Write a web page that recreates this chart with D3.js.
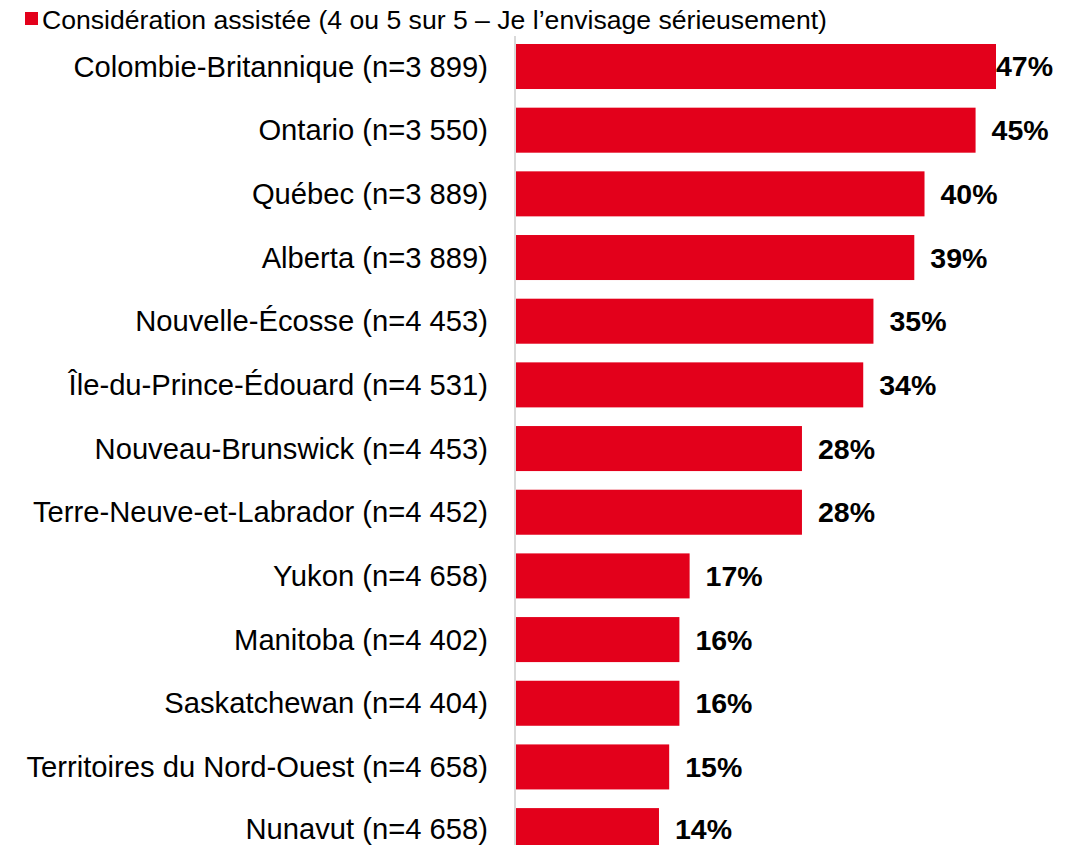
<!DOCTYPE html>
<html><head><meta charset="utf-8">
<script src="https://cdn.jsdelivr.net/npm/d3@7"></script>
<style>body{margin:0;background:#fff}svg{display:block}text{font-family:Arial,"Liberation Sans",sans-serif}</style>
</head><body>
<svg id="c" width="1081" height="845"></svg>
<script>
const categories = ["Colombie-Britannique (n=3 899)","Ontario (n=3 550)","Québec (n=3 889)","Alberta (n=3 889)","Nouvelle-Écosse (n=4 453)","Île-du-Prince-Édouard (n=4 531)","Nouveau-Brunswick (n=4 453)","Terre-Neuve-et-Labrador (n=4 452)","Yukon (n=4 658)","Manitoba (n=4 402)","Saskatchewan (n=4 404)","Territoires du Nord-Ouest (n=4 658)","Nunavut (n=4 658)"];
const values = [47,45,40,39,35,34,28,28,17,16,16,15,14];
const seriesName = "Considération assistée (4 ou 5 sur 5 – Je l’envisage sérieusement)";

const W = 1081, H = 845;
const svg = d3.select("#c");
const x0 = 516, plotRight = 1053;
const x = d3.scaleLinear().domain([0,47]).range([x0, 996]);
const y = d3.scaleBand().domain(categories).range([34.7, 34.7+63.67*13]).paddingInner(0.293).paddingOuter(0.146);
const red = "#e3001b";

// keep a text inside the picture (as the source chart does for its last row)
function clampBottom(){
  const b = this.getBBox();
  if (b.y + b.height > H) {
    this.setAttribute("y", +this.getAttribute("y") - (b.y + b.height - H));
  }
}

// axis line
svg.append("line").attr("x1",515).attr("x2",515).attr("y1",36).attr("y2",H).attr("stroke","#d9d9d9").attr("stroke-width",2);

svg.selectAll("rect.bar").data(values).join("rect").attr("class","bar")
  .attr("x",x0).attr("y",(d,i)=>y(categories[i])).attr("height",y.bandwidth())
  .attr("width",d=>x(d)-x0).attr("fill",red);

svg.selectAll("text.cat").data(categories).join("text").attr("class","cat")
  .attr("x",488).attr("y",d=>y(d)+y.bandwidth()/2).attr("dy","0.35em")
  .attr("text-anchor","end").attr("font-size",29.2).attr("fill","#000").text(d=>d)
  .each(clampBottom);

svg.selectAll("text.val").data(values).join("text").attr("class","val")
  .attr("y",(d,i)=>y(categories[i])+y.bandwidth()/2).attr("dy","0.35em")
  .attr("font-size",28.5).attr("font-weight","bold").attr("fill","#000")
  .text(d=>d+"%")
  .attr("x",function(d){const w=this.getComputedTextLength();return Math.min(x(d)+16, plotRight-w);})
  .each(clampBottom);

// legend
svg.append("rect").attr("x",25).attr("y",12).attr("width",13).attr("height",13).attr("fill",red);
svg.append("text").attr("x",42).attr("y",29).attr("font-size",26.6).attr("fill","#000").text(seriesName);
</script>
</body></html>
